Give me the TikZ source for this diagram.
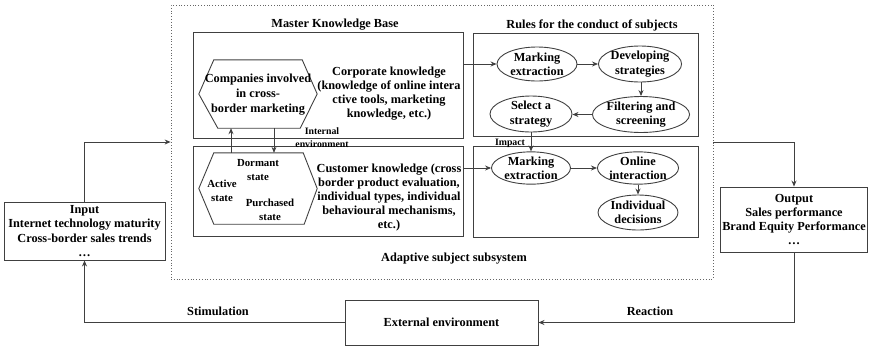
\documentclass[tikz,border=0pt]{standalone}
\usepackage{fontspec}
\setmainfont{Liberation Serif}
\usetikzlibrary{shapes.geometric,arrows.meta,calc}
\definecolor{linec}{HTML}{404040}
\begin{document}
\begin{tikzpicture}[x=1pt,y=-1pt,
  font=\bfseries\fontsize{12.3}{14.2}\selectfont,
  box/.style={draw=linec, line width=0.9pt, inner sep=0pt},
  ell/.style={draw=linec, line width=0.9pt, ellipse, inner sep=0pt, align=center,
              minimum width=80pt, minimum height=34pt},
  arr/.style={draw=linec, line width=0.9pt, -{Stealth[length=6pt,width=5pt]}},
  txt/.style={align=center, inner sep=0pt},
  small/.style={align=center, inner sep=0pt, font=\bfseries\fontsize{9.8}{12.5}\selectfont},
  state/.style={align=center, inner sep=0pt, font=\bfseries\fontsize{10.8}{13.8}\selectfont},
  hexline/.style={draw=linec, line width=0.9pt}
]
\useasboundingbox (0,0) rectangle (869,346);

% outer dotted system
\node[draw=linec!80, dotted, line width=0.8pt, minimum width=542pt, minimum height=274pt, inner sep=0pt] (sys) at (442,142) {};

% titles
\node[txt] (tmkb) at (335,25) {Master Knowledge Base};
\node[txt] (trules) at (592,25) {Rules for the conduct of subjects};
\node[txt] (tass) at (454,259) {Adaptive subject subsystem};

% four boxes
\node[box, minimum width=270pt, minimum height=106pt] (corp) at (328,85) {};
\node[box, minimum width=270pt, minimum height=90pt] (cust) at (328,191) {};
\node[box, minimum width=225pt, minimum height=103pt] (rules) at (585.5,84.5) {};
\node[box, minimum width=225pt, minimum height=91pt] (resp) at (585.5,191.5) {};

% hexagon A
\node[minimum width=118pt, minimum height=68pt, inner sep=0pt] (hexA) at (258,94) {};
\draw[hexline] (hexA.west) -- ([xshift=15pt]hexA.north west) -- ([xshift=-15pt]hexA.north east)
  -- (hexA.east) -- ([xshift=-17pt]hexA.south east) -- ([xshift=19pt]hexA.south west) -- cycle;
\node[txt, font=\bfseries\fontsize{12.3}{15}\selectfont] (hexAt) at (258,95) {Companies involved\\in cross-\\border marketing};

% hexagon B
\node[minimum width=118pt, minimum height=71pt, inner sep=0pt] (hexB) at (258,188.5) {};
\draw[hexline] (hexB.west) -- ([xshift=15pt]hexB.north west) -- ([xshift=-14pt]hexB.north east)
  -- (hexB.east) -- ([xshift=-13pt]hexB.south east) -- ([xshift=15pt]hexB.south west) -- cycle;
\node[state] (dorm) at (258,170) {Dormant\\state};
\node[state] (act) at (222,190.5) {Active\\state};
\node[state] (purch) at (270,210) {Purchased\\state};

% knowledge texts
\node[txt] (corpt) at (389,93.5) {Corporate knowledge\\(knowledge of online intera\\ctive tools, marketing\\knowledge, etc.)};
\node[txt] (custt) at (389,197.5) {Customer knowledge (cross\\border product evaluation,\\individual types, individual\\behavioural mechanisms,\\etc.)};

% hexagon arrows
\draw[arr] ([xshift=-27pt]hexB.north) -- ([xshift=-27pt]hexA.south);
\draw[arr] ([xshift=16pt]hexA.south) -- ([xshift=16pt]hexB.north);
\node[small] (intenv) at (322,137.5) {Internal\\environment};

% rules ellipses
\node[ell] (mk1) at (537,64) {Marking\\extraction};
\node[ell, minimum width=74pt, minimum height=36pt] (dev) at (640,64) {Developing\\strategies};
\node[ell, minimum width=78pt, minimum height=35pt] (filt) at (641,114.5) {Filtering and\\screening};
\node[ell, minimum width=82pt, minimum height=28pt] (sel) at (531,114) {Select a\\strategy};

\draw[arr] (corp.east |- mk1) -- (mk1.west);
\draw[arr] (mk1) -- (dev);
\draw[arr] ([xshift=1pt]dev.south) -- ([xshift=0pt]filt.north);
\draw[arr] (filt.west) -- (sel.east |- filt.west);

% response ellipses
\node[ell, minimum width=79pt, minimum height=31pt] (mk2) at (531,168) {Marking\\extraction};
\node[ell, minimum width=80pt, minimum height=31pt] (onl) at (638,168) {Online\\interaction};
\node[ell, minimum width=80pt, minimum height=35pt] (ind) at (638,212.5) {Individual\\decisions};

\draw[arr] (sel) -- (mk2);
\node[small] (impact) at (510,143) {Impact};
\draw[arr] (cust.east |- mk2) -- (mk2.west);
\draw[arr] (mk2) -- (onl);
\draw[arr] (onl) -- (ind);

% input / output / external
\node[box, minimum width=161pt, minimum height=58pt, align=center, font=\bfseries\fontsize{12.3}{14.3}\selectfont] (inp) at (84.5,231)
  {Input\\Internet technology maturity\\Cross-border sales trends\\\dots};
\node[box, minimum width=147pt, minimum height=65pt, align=center, font=\bfseries\fontsize{12.3}{14.3}\selectfont] (out) at (794,219.5)
  {Output\\Sales performance\\Brand Equity Performance\\\dots};
\node[box, minimum width=193pt, minimum height=45pt] (ext) at (441.5,322.5) {External environment};

\draw[arr] (inp.north) |- (sys.west);
\draw[arr] (sys.east) -| (out.north);
\draw[arr] (out.south) |- (ext.east);
\draw[arr] (ext.west) -| (inp.south);

\node[txt] (stim) at (218,311) {Stimulation};
\node[txt] (react) at (650,311) {Reaction};
\end{tikzpicture}
\end{document}
